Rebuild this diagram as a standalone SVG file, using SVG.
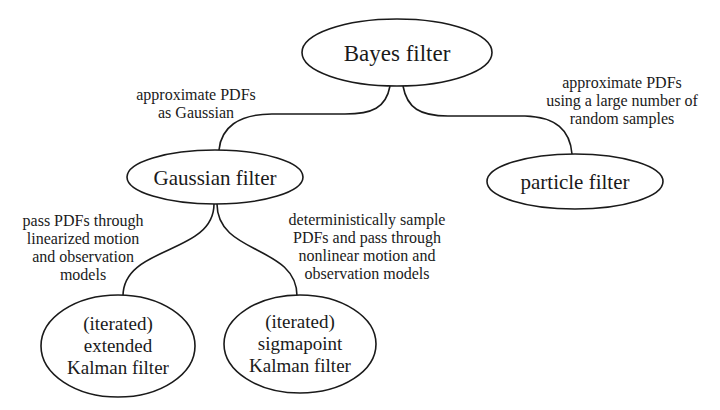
<svg xmlns="http://www.w3.org/2000/svg" width="720" height="410" viewBox="0 0 720 410">
<style>
.node{fill:#fff;stroke:#1a1a1a;stroke-width:1.6}
.edge{fill:none;stroke:#1a1a1a;stroke-width:1.6}
text{font-family:"Liberation Serif","Times New Roman",serif;fill:#1a1a1a;text-anchor:middle}
.t1{font-size:23px}
.t2{font-size:21px}
.t3{font-size:19px}
.lbl{font-size:16px}
</style>
<rect width="720" height="410" fill="#fff"/>
<g id="connectors">
<path class="edge" d="M390,86 C386,108 372,114 345,114 L272,114 C238,114 221,128 219,150"/>
<path class="edge" d="M403,86 C407,108 420,116 448,116 L525,116 C556,117 570,130 572,154"/>
<path class="edge" d="M214,204 C214,255 123,245 123,296"/>
<path class="edge" d="M217,204 C217,255 297,245 297,296"/>
</g>
<g id="bayes">
<ellipse class="node" cx="397" cy="52.5" rx="95" ry="33.5"/>
<text class="t1" x="397" y="61">Bayes filter</text>
</g>
<g id="gaussian">
<ellipse class="node" cx="215" cy="177" rx="88" ry="27"/>
<text class="t2" x="215" y="185">Gaussian filter</text>
</g>
<g id="particle">
<ellipse class="node" cx="575" cy="181.5" rx="88" ry="27.5"/>
<text class="t2" x="575" y="189">particle filter</text>
</g>
<g id="ekf">
<ellipse class="node" cx="118" cy="346" rx="77" ry="51"/>
<text class="t3" x="118" y="330">(iterated)</text>
<text class="t3" x="118" y="352">extended</text>
<text class="t3" x="118" y="374">Kalman filter</text>
</g>
<g id="skf">
<ellipse class="node" cx="300" cy="344" rx="76" ry="49"/>
<text class="t3" x="300" y="328">(iterated)</text>
<text class="t3" x="300" y="350">sigmapoint</text>
<text class="t3" x="300" y="372">Kalman filter</text>
</g>
<g id="labels">
<text class="lbl" x="196" y="100">approximate PDFs</text>
<text class="lbl" x="196" y="118">as Gaussian</text>
<text class="lbl" x="622" y="88">approximate PDFs</text>
<text class="lbl" x="622" y="106">using a large number of</text>
<text class="lbl" x="622" y="124">random samples</text>
<text class="lbl" x="83" y="226">pass PDFs through</text>
<text class="lbl" x="83" y="244">linearized motion</text>
<text class="lbl" x="83" y="262">and observation</text>
<text class="lbl" x="83" y="280">models</text>
<text class="lbl" x="367" y="225">deterministically sample</text>
<text class="lbl" x="367" y="243">PDFs and pass through</text>
<text class="lbl" x="367" y="261">nonlinear motion and</text>
<text class="lbl" x="367" y="279">observation models</text>
</g>
</svg>
